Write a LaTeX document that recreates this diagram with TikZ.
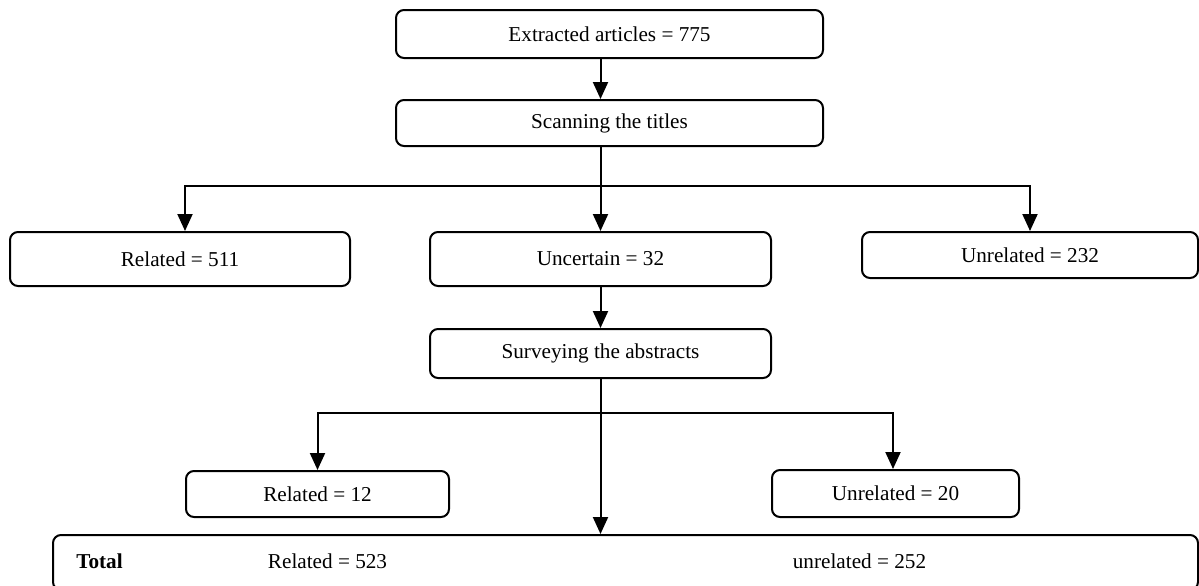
\documentclass[tikz,border=0pt]{standalone}
\usepackage{fontspec}
\setmainfont{Liberation Serif}
\usepackage{tikz}
\usetikzlibrary{arrows.meta}
\usetikzlibrary{calc}
\tikzset{stagebox/.style={draw, line width=1pt, rounded corners=4pt, font=\fontsize{10.6}{12}\selectfont}}
\tikzset{flowarrow/.style={line width=1pt, -{Triangle[length=8.5pt,width=7.5pt]}}}
\tikzset{totaltext/.style={font=\fontsize{10.6}{12}\selectfont}}

\begin{document}
\begin{tikzpicture}[x=0.5pt, y=-0.5pt]

\useasboundingbox (0,0) rectangle (1199,585);
\clip (0,0) rectangle (1199,585);

\node[stagebox, minimum width=213.5pt, minimum height=24pt] (extr) at (609.5, 34) {Extracted articles = 775};
\node[stagebox, minimum width=213.5pt, minimum height=23pt] (scan) at (609.5, 123) {Scanning the titles};

\node[stagebox, minimum width=170pt, minimum height=27pt] (rel1) at (180, 259) {Related = 511};
\node[stagebox, minimum width=170.5pt, minimum height=27pt] (unc) at (600.5, 259) {Uncertain = 32};
\node[stagebox, minimum width=168pt, minimum height=23pt] (unrel1) at (1030, 255) {Unrelated = 232};

\node[stagebox, minimum width=170.5pt, minimum height=24.5pt] (surv) at (600.5, 353.5) {Surveying the abstracts};

\node[stagebox, minimum width=131.5pt, minimum height=23pt] (rel2) at (317.5, 494) {Related = 12};
\node[stagebox, minimum width=123.5pt, minimum height=23.5pt] (unrel2) at (895.5, 493.5) {Unrelated = 20};

\node[stagebox, minimum width=572.5pt, minimum height=27.5pt] (total) at (625.5, 562.5) {};
\node[totaltext] (totlabel) at (99.5, 561) {\textbf{Total}};
\node[totaltext] (totrel) at (327.5, 561) {Related = 523};
\node[totaltext] (totunrel) at (859.5, 561) {unrelated = 252};

\coordinate (split1) at (600.5, 186);
\coordinate (split2) at (600.5, 413);

\draw[flowarrow] (extr.south -| unc.north) -- (scan.north -| unc.north);
\draw[flowarrow] (scan.south -| unc.north) -- (unc.north);
\draw[flowarrow] (split1) -| ([xshift=2.5pt]rel1.north);
\draw[flowarrow] (split1) -| (unrel1.north);

\draw[flowarrow] (unc.south) -- (surv.north);
\draw[flowarrow] (surv.south) -- (surv.south |- total.north);
\draw[flowarrow] (split2) -| (rel2.north);
\draw[flowarrow] (split2) -| ([xshift=-1.25pt]unrel2.north);

\end{tikzpicture}
\end{document}
